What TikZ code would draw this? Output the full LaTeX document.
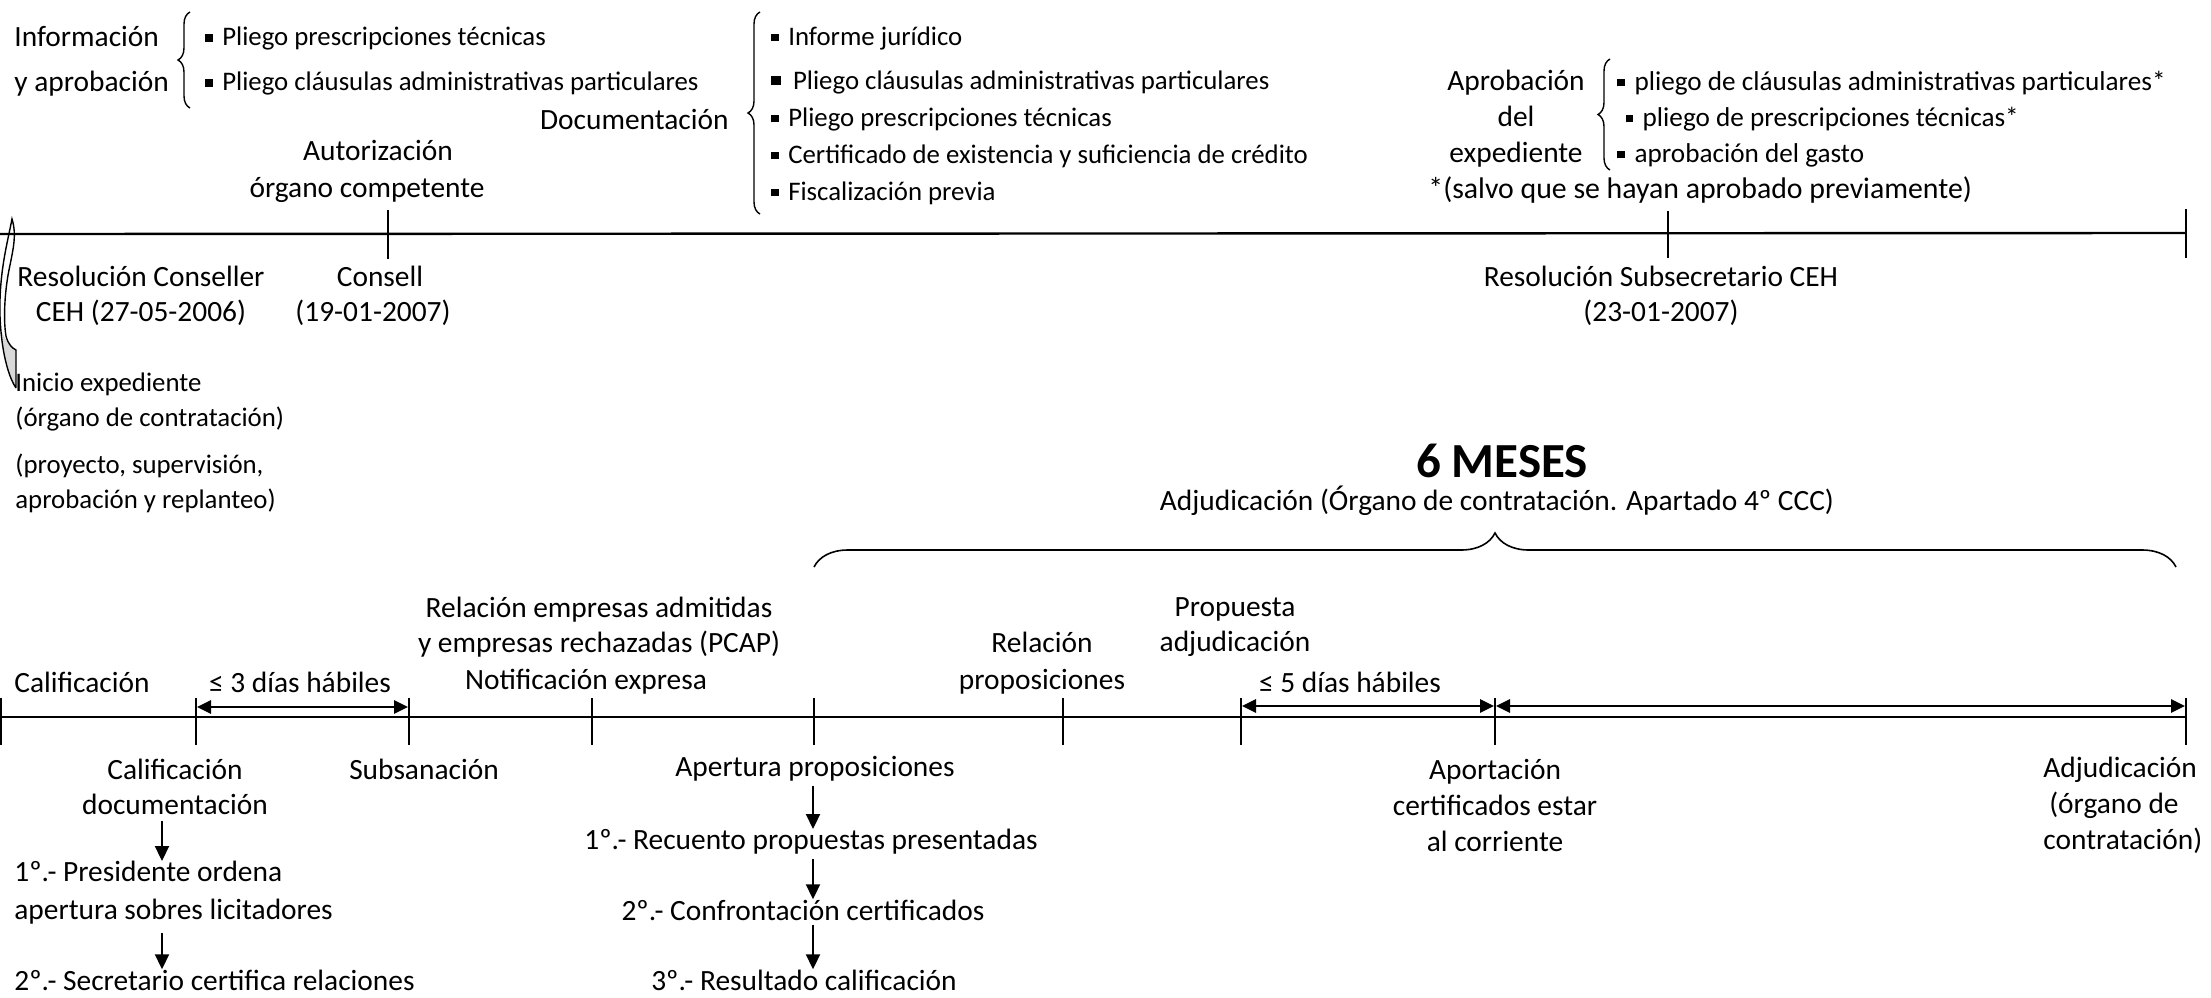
\documentclass[tikz,border=0pt]{standalone}
\usepackage{fontspec}
\setmainfont{Carlito}
\usetikzlibrary{decorations.pathreplacing,arrows.meta}
\newcommand\bul{\raisebox{0.3ex}{\rule{0.28em}{0.28em}}\hspace{0.35em}}
\newcommand\bigbul{\raisebox{0.3ex}{\rule{0.36em}{0.36em}}\hspace{0.45em}}
\newcommand\fs[1]{\fontsize{14.7}{#1}\selectfont}
\newcommand\fl[1]{\fontsize{13.4}{#1}\selectfont}
\begin{document}
\begin{tikzpicture}[x=0.5pt,y=-0.5pt,
  txt/.style={inner sep=0pt, font=\fs{17.5}},
  lst/.style={txt, align=left, anchor=west},
  ctr/.style={txt, align=center},
  axis/.style={line width=1.2pt},
  tick/.style={line width=0.7pt},
  lbrace/.style={decorate, decoration={brace, amplitude=6pt}, line width=0.7pt},
  dim/.style={line width=1.4pt, {Triangle[length=7pt,width=6.5pt]}-{Triangle[length=7pt,width=6.5pt]}},
  flow/.style={line width=1pt, -{Triangle[length=7.5pt,width=7pt]}}]
\useasboundingbox (0,0) rectangle (2211,997);

% ---------- top section ----------
\node[lst, font=\fs{22.5}] (info) at (14,61) {Información\\y aprobación};
\draw[lbrace] (190,108) -- (190,12);
\node[lst, font=\fl{22.5}] (infolist) at (205,61)
  {\bul Pliego prescripciones técnicas\\\bul Pliego cláusulas administrativas particulares};

\node[txt, anchor=east] (docu) at (729,119) {Documentación};
\draw[lbrace] (760,214) -- (760,12);
\node[lst, font=\fl{18.5}] (doclist) at (771,115.5)
  {\bul Informe jurídico\\[3.5pt]
   \bigbul Pliego cláusulas administrativas particulares\\
   \bul Pliego prescripciones técnicas\\
   \bul Certificado de existencia y suficiencia de crédito\\
   \bul Fiscalización previa};

\node[ctr, font=\fs{18.5}] (auto) at (367,171.5) {\hspace*{11pt}Autorización\\órgano competente};

\node[ctr, font=\fs{18}] (aprob) at (1516,119) {Aprobación\\del\\expediente};
\draw[lbrace] (1610,170) -- (1610,59);
\node[lst, font=\fontsize{13.6}{18}\selectfont] (aproblist) at (1617,119)
  {\bul pliego de cláusulas administrativas particulares*\\
   \hspace{0.3em}\bul pliego de prescripciones técnicas*\\
   \bul aprobación del gasto};
\node[lst, font=\fontsize{14.9}{18}\selectfont] (salvo) at (1428,190) {*(salvo que se hayan aprobado previamente)};

% top timeline
\coordinate (ta) at (0,234);
\coordinate (tb) at (2186,233);
\draw[axis] (ta) -- (tb);
\coordinate (t1a) at (388,210); \coordinate (t1b) at (388,259);
\coordinate (t2a) at (1668,211); \coordinate (t2b) at (1668,258);
\coordinate (t3a) at (2186,209); \coordinate (t3b) at (2186,258);
\draw[tick] (t1a) -- (t1b);
\draw[tick] (t2a) -- (t2b);
\draw[tick] (t3a) -- (t3b);

% curved marker at the start
\fill[gray!30] (16,350) -- (16,388) .. controls (9,375) and (3,355) .. (2,332)
  .. controls (5,340) and (10,346) .. (16,350) -- cycle;
\draw[line width=0.7pt] (16,388) .. controls (4,370) and (-1,330) .. (0,300)
  .. controls (1,265) and (8,240) .. (12,219)
  .. controls (17,235) and (13,250) .. (9,270)
  .. controls (5,290) and (3,318) .. (6,336)
  .. controls (8,344) and (12,348) .. (16,350) -- (16,388);

\node[ctr] (resc) at (141,296) {Resolución Conseller\\CEH (27-05-2006)};
\node[ctr] (consell) at (373,296) {\hspace*{7pt}Consell\\(19-01-2007)};
\node[ctr] (ressub) at (1661,296) {Resolución Subsecretario CEH\\(23-01-2007)};
\node[lst, font=\fl{17.5}] (inicio) at (15,443)
  {Inicio expediente\\(órgano de contratación)\\[6pt](proyecto, supervisión,\\aprobación y replanteo)};

% ---------- middle ----------
\node[txt, font=\fontsize{24.5}{28}\selectfont\bfseries] (meses) at (1502,461) {6 MESES};
\node[txt] (adjtit) at (1497,501) {Adjudicación (Órgano de contratación. Apartado 4º CCC)};
\coordinate (ba) at (814,567);
\coordinate (bb) at (2176,567);
\draw[decorate, decoration={brace, amplitude=17pt}, line width=0.8pt] (ba) -- (bb);

% ---------- bottom timeline ----------
\coordinate (la) at (0,717);
\coordinate (lb) at (2186,717);
\draw[axis] (la) -- (lb);
\foreach \n/\x in {0/1,1/196,2/409,3/592,4/814,5/1063,6/1241,7/1495,8/2186}{
  \coordinate (k\n a) at (\x,698);
  \coordinate (k\n b) at (\x,745);
  \draw[tick] (k\n a) -- (k\n b);
}
\coordinate (d1a) at (197,707); \coordinate (d1b) at (408,707);
\coordinate (d2a) at (1242,706); \coordinate (d2b) at (1494,706);
\coordinate (d3a) at (1496,706); \coordinate (d3b) at (2185,706);
\draw[dim] (d1a) -- (d1b);
\draw[dim] (d2a) -- (d2b);
\draw[dim] (d3a) -- (d3b);

\node[lst] (calif) at (14,682) {Calificación};
\node[txt] (dias3) at (300,682) {≤ 3 días hábiles};
\node[ctr] (relemp) at (599,627) {Relación empresas admitidas\\y empresas rechazadas (PCAP)};
\node[txt] (notif) at (586,682) {Notificación expresa};
\node[ctr, font=\fs{18.5}] (relprop) at (1042,663) {Relación\\proposiciones};
\node[ctr] (propadj) at (1235,627) {Propuesta\\adjudicación};
\node[txt] (dias5) at (1350,682) {≤ 5 días hábiles};

\node[ctr] (caldoc) at (175,787) {Calificación\\documentación};
\node[lst, font=\fs{19}] (pres) at (14,893) {1º.- Presidente ordena\\apertura sobres licitadores};
\node[lst] (secr) at (14,980) {2º.- Secretario certifica relaciones};
\coordinate (ax1) at (162,0);
\draw[flow] (caldoc.south -| ax1) ++(0,6) -- (pres.north -| ax1);
\draw[flow] (pres.south -| ax1) ++(0,8) -- (secr.north -| ax1);

\node[txt] (subs) at (424,769) {Subsanación};

\node[txt] (apert) at (815,769) {Apertura proposiciones};
\node[txt] (recu) at (811,842) {1º.- Recuento propuestas presentadas};
\node[txt] (confr) at (803,910) {2º.- Confrontación certificados};
\node[txt] (resul) at (804,980) {3º.- Resultado calificación};
\coordinate (ax2) at (813,0);
\draw[flow] (apert.south -| ax2) ++(0,4) -- (recu.north -| ax2);
\draw[flow] (recu.south -| ax2) ++(0,4) -- (confr.north -| ax2);
\draw[flow] (confr.south -| ax2) ++(0,4) -- (resul.north -| ax2);

\node[ctr, font=\fs{18}] (aport) at (1495,805) {Aportación\\certificados estar\\al corriente};
\node[lst, font=\fs{18}] (adjud) at (2043,805) {Adjudicación\\\hspace{0.2em}(órgano de\\contratación)};
\end{tikzpicture}
\end{document}
